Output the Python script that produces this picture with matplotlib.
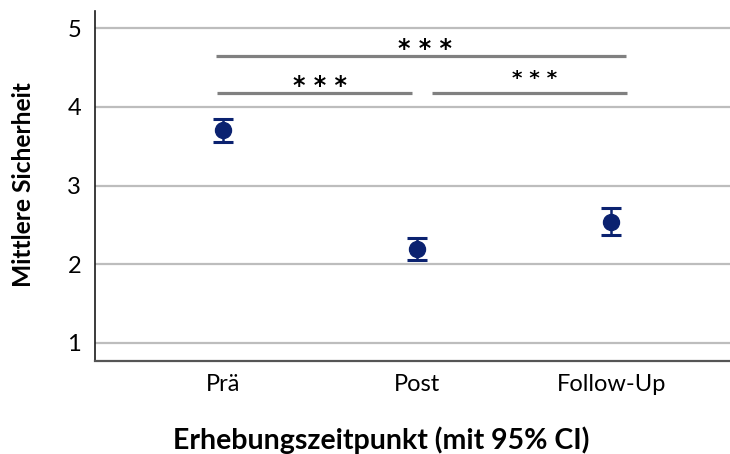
import matplotlib
matplotlib.use("Agg")
import matplotlib.pyplot as plt
import numpy as np

# Mean confidence per measurement time with 95% CI
zeitpunkte = ["Prä", "Post", "Follow-Up"]
mittelwerte = [3.70, 2.19, 2.54]
ci_unten = [3.555, 2.05, 2.37]
ci_oben = [3.85, 2.33, 2.72]
y_ticks = [1, 2, 3, 4, 5]
signifikanz = ["* * *", "* * *", "* * *"]

plt.rcParams["font.family"] = ["Lato", "DejaVu Sans"]

W, H = 730, 454
fig = plt.figure(figsize=(W / 100, H / 100), dpi=100)
ax = fig.add_axes([0.130, 0.2048, 0.870, 0.7716])

x = np.arange(len(zeitpunkte))
mw = np.array(mittelwerte)
err = np.vstack([mw - np.array(ci_unten), np.array(ci_oben) - mw])

navy = "#0b2270"
ax.errorbar(x, mw, yerr=err, fmt="o", color=navy, ecolor=navy,
            markersize=11.5, elinewidth=1.8, capsize=7, capthick=2.2, zorder=3)

ax.set_xlim(-0.663, 2.613)
ax.set_ylim(0.771, 5.22)
ax.set_yticks(y_ticks)
ax.set_xticks(x)
ax.set_xticklabels(zeitpunkte)
ax.yaxis.grid(True, color="#bdbdbd", linewidth=1.6, zorder=0)
ax.set_axisbelow(True)
ax.tick_params(axis="both", length=0, labelsize=17, colors="#000000")
ax.tick_params(axis="y", pad=10)
ax.tick_params(axis="x", pad=9)

for side in ("top", "right"):
    ax.spines[side].set_visible(False)
ax.spines["left"].set_color("#1a1a1a")
ax.spines["left"].set_linewidth(1.2)
ax.spines["bottom"].set_color("#555555")
ax.spines["bottom"].set_linewidth(1.6)

fig.text(24 / W, 1 - 185 / H, "Mittlere Sicherheit", rotation=90,
         ha="center", va="center", fontsize=17.7, fontweight="bold")
fig.text(381 / W, 1 - 440 / H, "Erhebungszeitpunkt (mit 95% CI)",
         ha="center", va="center", fontsize=20.5, fontweight="bold")

# Significance brackets between time points
brackets = [
    (-0.04, 2.074, 4.644, 1.038, 4.64, 17),
    (-0.035, 0.974, 4.17, 0.50, 4.18, 17),
    (1.075, 2.083, 4.17, 1.605, 4.29, 14.5),
]
for (x0, x1, yb, xt, yt, fs), lab in zip(brackets, signifikanz):
    ax.plot([x0, x1], [yb, yb], color="#808080", linewidth=2.3,
            solid_capstyle="butt", zorder=2)
    ax.text(xt, yt, lab, ha="center", va="baseline", fontsize=fs,
            family="DejaVu Sans", fontweight="bold", color="#000000")

fig.savefig("out.png", dpi=100)
